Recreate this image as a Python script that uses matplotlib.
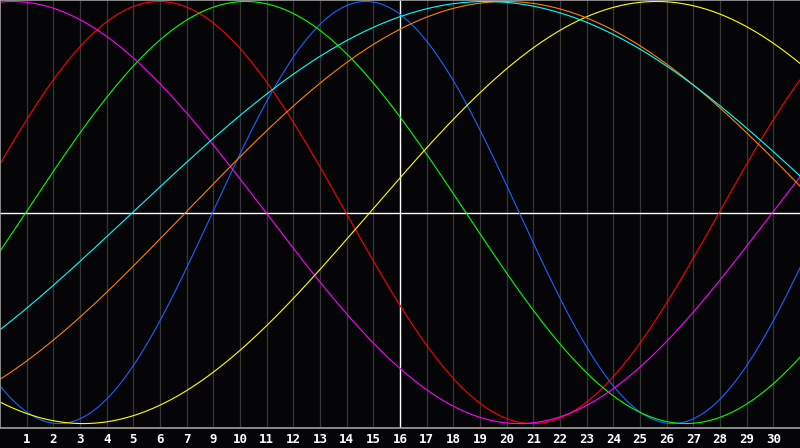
import matplotlib
matplotlib.use("Agg")
import matplotlib.pyplot as plt
import numpy as np

# biorhythm cycles: period (days) and the day on the chart where the cycle crosses zero going up
cycles = ["physical", "emotional", "intellectual", "intuitive", "aesthetic", "awareness", "spiritual"]
periods = [23, 28, 33, 38, 43, 48, 53]
zero_up_day = [7.97, 26.97, 0.97, 28.97, 13.87, 6.96, 4.97]
colors = ["#1464ff", "#ff0000", "#00ff00", "#ff00ff", "#ffff00", "#ff8000", "#00ffff"]

# day labels under the grid lines (the original skips 8)
day_labels = ["1", "2", "3", "4", "5", "6", "7", "9", "10", "11", "12", "13", "14", "15",
              "16", "17", "18", "19", "20", "21", "22", "23", "24", "25", "26", "27", "28",
              "29", "30"]
today_index = 15

bg = "#050508"
fig = plt.figure(figsize=(8, 4.48), dpi=100, facecolor=bg)
ax = fig.add_axes([0, 20 / 448, 1, 428 / 448], facecolor=bg)

ax.set_xlim(0, 30)
ax.set_ylim(-1.021, 1.007)

# vertical day grid
for i in range(1, len(day_labels) + 1):
    c = "white" if i == today_index else "#363636"
    ax.axvline(i, color=c, lw=1.0 if i == today_index else 0.9, zorder=1)
ax.axhline(0, color="white", lw=1.0, zorder=1)

t = np.linspace(0, 30, 1200)
for name, p, z, c in zip(cycles, periods, zero_up_day, colors):
    ax.plot(t, np.sin(2 * np.pi * (t - z) / p), color=c, lw=0.8, label=name, zorder=2)

ax.set_xticks(range(1, len(day_labels) + 1))
ax.set_xticklabels(day_labels, fontsize=9, fontweight="bold", color="white",
                   family="DejaVu Sans Mono")
ax.tick_params(axis="x", length=0, pad=3.5)
ax.set_yticks([])

for s in ["left", "top", "bottom"]:
    ax.spines[s].set_color("#a0a0a0")
    ax.spines[s].set_linewidth(1.2)
ax.spines["right"].set_visible(False)

fig.savefig("out.png", dpi=100, facecolor=bg)
